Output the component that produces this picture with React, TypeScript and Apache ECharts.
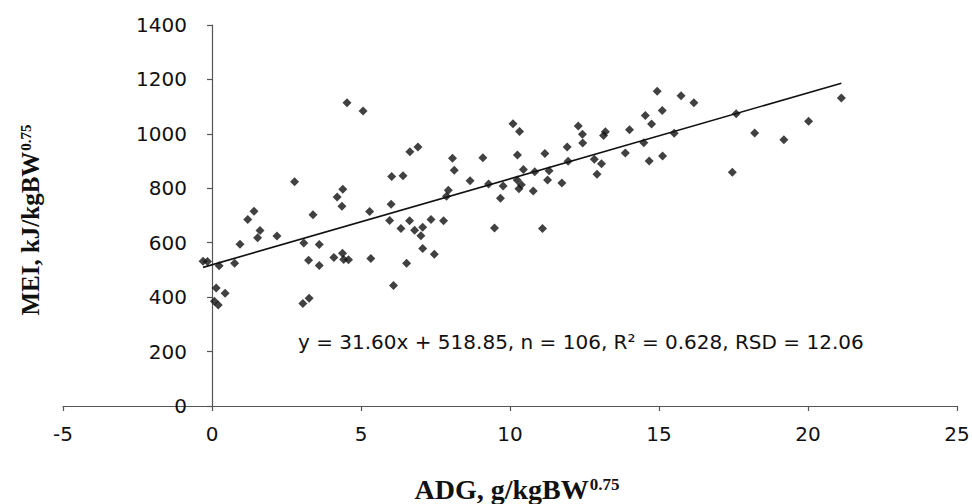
import React, { useEffect, useRef } from "react";
import * as echarts from "echarts";

// ADG, g/kgBW^0.75 (x) and MEI, kJ/kgBW^0.75 (y)
const adg = [
  4.53, 5.07, 2.77, 4.39, 4.2, 4.36, 1.41, 1.2, 3.39, 1.61, 1.53, 2.18, 0.94, 3.08, 3.6, -0.3, -0.15, 0.24, 0.76, 3.24,
  3.6, 4.09, 4.38, 4.42, 4.58, 0.14, 0.44, 0.08, 0.21, 3.05, 3.26,
  6.64, 6.91, 10.1, 10.32, 6.03, 6.41, 8.07, 8.13, 9.09, 10.25, 8.66, 9.28, 9.77, 10.24, 10.3, 7.93, 7.87, 9.68, 6.01,
  5.29, 5.96, 6.63, 6.34, 6.8, 7.07, 7.35, 7.77, 7.01, 7.07, 7.46, 9.48, 5.33, 6.53, 6.09, 10.38,
  14.94, 15.74, 15.11, 14.54, 14.75, 14.01, 13.2, 13.14, 12.29, 12.43, 12.44, 11.92, 11.17, 13.87, 15.12, 15.51, 14.49,
  11.95, 12.83, 13.07, 14.67, 10.45, 10.83, 11.31, 10.78, 11.26, 11.74, 12.92, 11.09,
  16.17, 17.59, 18.21, 19.19, 20.02, 21.12, 17.46,
];
const mei = [
  1114, 1084, 824, 796, 768, 734, 716, 685, 703, 645, 618, 625, 594, 599, 593, 532, 531, 515, 525, 536,
  516, 546, 561, 538, 537, 434, 414, 385, 371, 377, 396,
  934, 952, 1037, 1009, 843, 846, 910, 866, 912, 922, 828, 816, 808, 830, 798, 793, 771, 763, 741,
  715, 682, 681, 652, 646, 657, 685, 681, 626, 579, 558, 654, 542, 525, 443, 813,
  1157, 1140, 1086, 1067, 1036, 1015, 1008, 994, 1029, 999, 966, 952, 928, 930, 919, 1002, 967,
  899, 907, 890, 900, 869, 861, 864, 790, 830, 819, 852, 652,
  1114, 1074, 1003, 978, 1046, 1132, 859,
];

const slope = 31.6;
const intercept = 518.85;
const equationText = "y = 31.60x + 518.85, n = 106, R² = 0.628, RSD = 12.06";
const xAxisTitle = "{b|ADG, g/kgBW}{s|0.75}";
const yAxisTitle = "{b|MEI, kJ/kgBW}{s|0.75}";

const xTicks = { min: -5, max: 25, interval: 5 };
const yTicks = { min: 0, max: 1400, interval: 200 };

const W = 972;
const H = 504;
const GRID = { left: 63, right: 15, top: 25, bottom: 98 };

export default function App() {
  const ref = useRef<HTMLDivElement>(null);

  useEffect(() => {
    if (!ref.current) return;
    const chart = echarts.init(ref.current, null, { renderer: "svg" });
    const points = adg.map((x, i) => [x, mei[i]]);
    const xMin = Math.min(...adg);
    const xMax = Math.max(...adg);
    const fitLine = [
      [xMin, intercept + slope * xMin],
      [xMax, intercept + slope * xMax],
    ];
    // the y axis crosses the x axis at x = 0: shift it inward from the grid's left edge
    const gridWidth = W - GRID.left - GRID.right;
    const yAxisShift = -gridWidth * (0 - xTicks.min) / (xTicks.max - xTicks.min);

    const tickFont = { fontFamily: "DejaVu Sans", fontSize: 20, color: "#111" };
    const axisLineStyle = { color: "#555", width: 1.2 };
    const titleRich = (main: number, sup: number, lift: number) => ({
      b: { fontFamily: "Liberation Serif", fontWeight: "bold", fontSize: main, lineHeight: main + 2, fill: "#111", color: "#111", verticalAlign: "bottom" },
      s: { fontFamily: "Liberation Serif", fontWeight: "bold", fontSize: sup, fill: "#111", color: "#111", verticalAlign: "bottom", padding: [0, 0, lift, 1] },
    });

    chart.setOption({
      animation: false,
      backgroundColor: "#fff",
      grid: { ...GRID, containLabel: false, outerBoundsMode: "none" },
      xAxis: {
        type: "value",
        min: xTicks.min,
        max: xTicks.max,
        interval: xTicks.interval,
        splitLine: { show: false },
        axisLine: { show: true, onZero: false, lineStyle: axisLineStyle },
        axisTick: { show: true, length: 5, lineStyle: axisLineStyle },
        axisLabel: { ...tickFont, margin: 18, formatter: (v: number) => String(v) },
      },
      yAxis: {
        type: "value",
        min: yTicks.min,
        max: yTicks.max,
        interval: yTicks.interval,
        offset: yAxisShift,
        splitLine: { show: false },
        axisLine: { show: true, onZero: false, lineStyle: axisLineStyle },
        axisTick: { show: true, length: 5, lineStyle: axisLineStyle },
        axisLabel: { ...tickFont, margin: 25, formatter: (v: number) => String(v) },
      },
      graphic: [
        {
          type: "text",
          x: 298,
          y: 342,
          style: {
            text: equationText,
            fontFamily: "DejaVu Sans",
            fontSize: 20,
            fill: "#111",
            verticalAlign: "middle",
          },
        },
        {
          type: "text",
          x: 517,
          y: 488,
          style: {
            text: xAxisTitle,
            rich: titleRich(28, 17, 10),
            align: "center",
            verticalAlign: "middle",
          },
        },
        {
          type: "text",
          x: 29,
          y: 220,
          rotation: Math.PI / 2,
          style: {
            text: yAxisTitle,
            rich: titleRich(25, 15, 9),
            align: "center",
            verticalAlign: "middle",
          },
        },
      ],
      series: [
        {
          type: "scatter",
          data: points,
          symbol: "diamond",
          symbolSize: 9,
          itemStyle: { color: "#111" },
          z: 3,
        },
        {
          type: "line",
          data: fitLine,
          symbol: "none",
          lineStyle: { color: "#111", width: 1.6 },
          z: 2,
        },
      ],
    });
    return () => chart.dispose();
  }, []);

  return <div ref={ref} style={{ position: "absolute", left: 0, top: 0, width: W, height: H }} />;
}
